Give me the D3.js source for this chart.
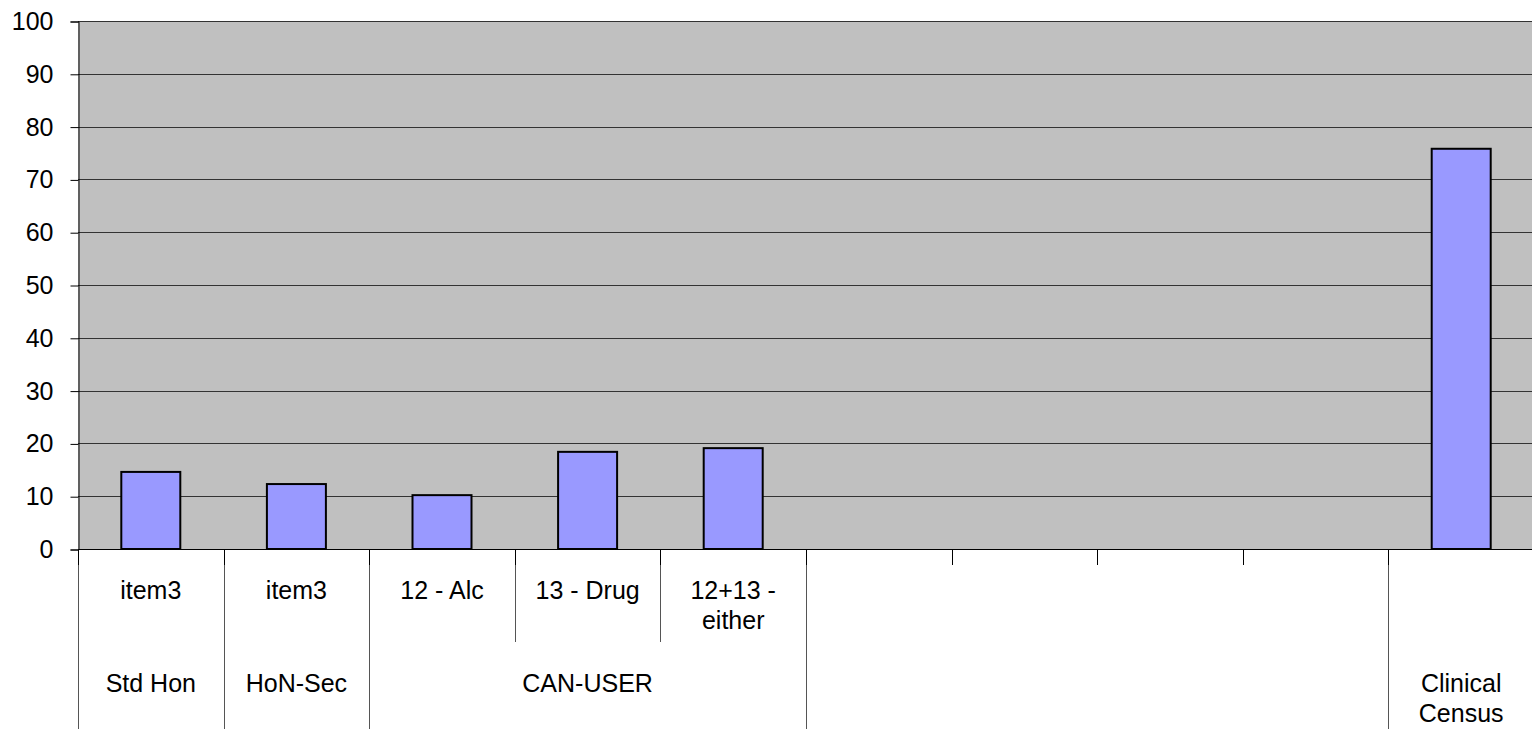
<!DOCTYPE html>
<html>
<head>
<meta charset="utf-8">
<script src="https://cdn.jsdelivr.net/npm/d3@7"></script>
<style>
  html, body { margin: 0; padding: 0; background: #ffffff; overflow: hidden; }
  svg { display: block; font-family: Arial, "Liberation Sans", sans-serif; }
</style>
</head>
<body>
<svg id="chart" width="1532" height="729"></svg>
<script>
// ---- data ----
const categories = ["item3", "item3", "12 - Alc", "13 - Drug", "12+13 - either", "", "", "", "", ""];
const values = [14.6, 12.3, 10.2, 18.4, 19.1, null, null, null, null, 75.8];
const groupLabels = ["Std Hon", "HoN-Sec", "CAN-USER", "", "Clinical Census"];
const groupSizes = [1, 1, 3, 4, 1];
const yTicks = [0, 10, 20, 30, 40, 50, 60, 70, 80, 90, 100];

// ---- layout ----
const W = 1532, H = 729;
const plot = { left: 78, right: 1534, top: 21, bottom: 549 };
const fontSize = 25;
const lineH = 30;

const svg = d3.select("#chart");

const x = d3.scaleBand()
  .domain(d3.range(categories.length))
  .range([plot.left, plot.right])
  .paddingInner(0).paddingOuter(0);

const y = d3.scaleLinear().domain([0, 100]).range([plot.bottom, plot.top]);

// plot background
svg.append("rect")
  .attr("x", plot.left).attr("y", plot.top)
  .attr("width", plot.right - plot.left).attr("height", plot.bottom - plot.top)
  .attr("fill", "#c0c0c0");

// gridlines
svg.append("g").selectAll("line")
  .data(yTicks.filter(d => d > 0))
  .join("line")
  .attr("x1", plot.left).attr("x2", plot.right)
  .attr("y1", d => Math.round(y(d)) + 0.5).attr("y2", d => Math.round(y(d)) + 0.5)
  .attr("stroke", "#333").attr("stroke-width", 1);

// y axis
const yAxis = d3.axisLeft(y).tickValues(yTicks).tickSize(8).tickPadding(17)
  .tickFormat(d3.format("d"));
const gy = svg.append("g")
  .attr("transform", `translate(${plot.left + 0.5},0.5)`)
  .call(yAxis);
gy.select(".domain").attr("stroke", "#000");
gy.selectAll(".tick line").attr("stroke", "#000");
gy.selectAll(".tick text")
  .attr("font-size", fontSize).attr("fill", "#000")
  .attr("font-family", "Arial, 'Liberation Sans', sans-serif");

// bars
const barW = 59;
svg.append("g").selectAll("rect")
  .data(values.map((v, i) => ({ v, i })).filter(d => d.v != null))
  .join("rect")
  .attr("x", d => x(d.i) + x.bandwidth() / 2 - barW / 2)
  .attr("y", d => y(d.v))
  .attr("width", barW)
  .attr("height", d => y(0) - y(d.v))
  .attr("fill", "#9999ff")
  .attr("stroke", "#000")
  .attr("stroke-width", 2);

// baseline
svg.append("line")
  .attr("x1", plot.left).attr("x2", plot.right)
  .attr("y1", plot.bottom + 0.5).attr("y2", plot.bottom + 0.5)
  .attr("stroke", "#000").attr("stroke-width", 1);

// ---- category axis (multi-level) ----
const gx = svg.append("g");
const level1Y = 599;   // baseline of first line, level 1
const level2Y = 692;   // baseline of first line, level 2
const level1Bottom = 642;

// group boundaries
const groupStarts = [];
let acc = 0;
groupSizes.forEach(s => { groupStarts.push(acc); acc += s; });
const groupBoundaryIdx = new Set(groupStarts.concat([acc]));

// boundary lines at each category edge
d3.range(categories.length + 1).forEach(i => {
  const bx = (i < categories.length ? x(i) : plot.right);
  const xx = Math.round(bx) + 0.5;
  let y2;
  if (groupBoundaryIdx.has(i)) {
    y2 = H;
  } else if (categories[i - 1] !== "" || categories[i] !== "") {
    y2 = level1Bottom;
  } else {
    y2 = plot.bottom + 16;
  }
  gx.append("line")
    .attr("x1", xx).attr("x2", xx)
    .attr("y1", plot.bottom).attr("y2", y2)
    .attr("stroke", "#555").attr("stroke-width", 1);
  gx.append("line")
    .attr("x1", xx).attr("x2", xx)
    .attr("y1", plot.bottom).attr("y2", plot.bottom + 16)
    .attr("stroke", "#000").attr("stroke-width", 1);
});

function wrapText(sel, text, maxW) {
  const words = text.split(/\s+/).filter(w => w.length);
  const lines = [];
  let cur = [];
  const probe = sel.append("tspan");
  words.forEach(w => {
    const test = cur.concat([w]).join(" ");
    probe.text(test);
    if (probe.node().getComputedTextLength() > maxW && cur.length) {
      lines.push(cur.join(" "));
      cur = [w];
    } else {
      cur.push(w);
    }
  });
  if (cur.length) lines.push(cur.join(" "));
  probe.remove();
  lines.forEach((ln, k) => {
    sel.append("tspan")
      .attr("x", sel.attr("x"))
      .attr("dy", k === 0 ? 0 : lineH)
      .text(ln);
  });
}

// level 1 labels
categories.forEach((c, i) => {
  if (!c) return;
  const t = gx.append("text")
    .attr("x", x(i) + x.bandwidth() / 2)
    .attr("y", level1Y)
    .attr("text-anchor", "middle")
    .attr("font-size", fontSize)
    .attr("fill", "#000");
  wrapText(t, c, x.bandwidth() - 14);
});

// level 2 labels
groupLabels.forEach((g, gi) => {
  if (!g) return;
  const s = groupStarts[gi], n = groupSizes[gi];
  const x0 = x(s), x1 = (s + n < categories.length ? x(s + n) : plot.right);
  const t = gx.append("text")
    .attr("x", (x0 + x1) / 2)
    .attr("y", level2Y)
    .attr("text-anchor", "middle")
    .attr("font-size", fontSize)
    .attr("fill", "#000");
  wrapText(t, g, (x1 - x0) - 14);
});
</script>
</body>
</html>
